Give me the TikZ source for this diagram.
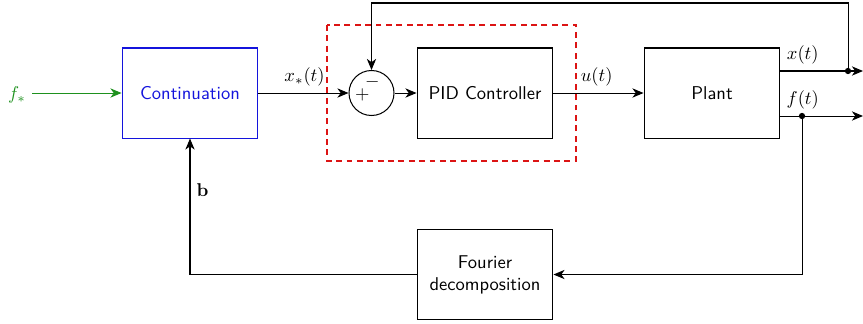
\documentclass[tikz,border=0pt]{standalone}
\usetikzlibrary{arrows.meta}
\definecolor{myg}{RGB}{30,145,30}
\definecolor{myb}{RGB}{20,20,220}
\definecolor{myr}{RGB}{220,20,20}
\begin{document}
\begin{tikzpicture}[x=0.54pt,y=-0.54pt,
  blockbox/.style={draw,rectangle,inner sep=0pt,minimum width=73.4pt,minimum height=48.6pt,font=\sffamily,align=center},
  sumnode/.style={draw,circle,inner sep=0pt,minimum size=24.3pt},
  conn/.style={-{Stealth[length=6pt,width=5pt,inset=1.8pt]}},
  dotnode/.style={circle,fill,inner sep=0pt,minimum size=3.4pt},
  line width=0.55pt]
\useasboundingbox (0,0) rectangle (863,323);
% dashed controller frame
\draw[draw=myr,line width=0.6pt,dash pattern=on 3.2pt off 2.4pt] (327,25) rectangle (576,161);
% blocks
\node[blockbox,draw=myb,text=myb] (cont) at (190,93) {Continuation};
\node[sumnode] (sum) at (371.5,93) {};
\node[blockbox] (pid) at (485,93) {PID Controller};
\node[blockbox] (plant) at (712,93) {Plant};
\node[blockbox] (four) at (485,274.5) {Fourier\\decomposition};
\node[text=myg] (fstar) at (17,95) {$f_*$};
\node at ([xshift=-5pt,yshift=-1pt]sum.center) {$+$};
\node at ([xshift=0.5pt,yshift=6pt]sum.center) {$-$};
% coordinates
\coordinate (cs) at (32,93);
\coordinate (xout) at (863,71);
\coordinate (fout) at (863,116);
\node[dotnode] (xdot) at (848,71) {};
\node[dotnode] (fdot) at (802,116) {};
\coordinate (top) at (848,3);
\coordinate (topl) at (371.5,3);
\coordinate (fdown) at (802,274.5);
\coordinate (bcorner) at (190,274.5);
% connectors
\draw[conn,myg] (cs) -- (cont.west);
\draw[conn] (cont.east) -- node[above,pos=0.45,xshift=3pt]{$x_*(t)$} (sum.west);
\draw[conn] (sum.east) -- (pid.west);
\draw[conn] (pid.east) -- node[above,pos=0.5,xshift=-1pt]{$u(t)$} (plant.west);
\draw[conn] (plant.east|-xout) -- node[above,pos=0.27]{$x(t)$} (xout);
\draw[conn] (plant.east|-fout) -- node[above,pos=0.27]{$f(t)$} (fout);
\draw[conn] (xdot.center) -- (top) -- (topl) -- (sum.north);
\draw[conn] (fdot.center) -- (fdown) -- (four.east);
\draw[conn] (four.west) -- (bcorner) -- node[right,pos=0.62]{$\mathbf{b}$} (cont.south);
\end{tikzpicture}
\end{document}
